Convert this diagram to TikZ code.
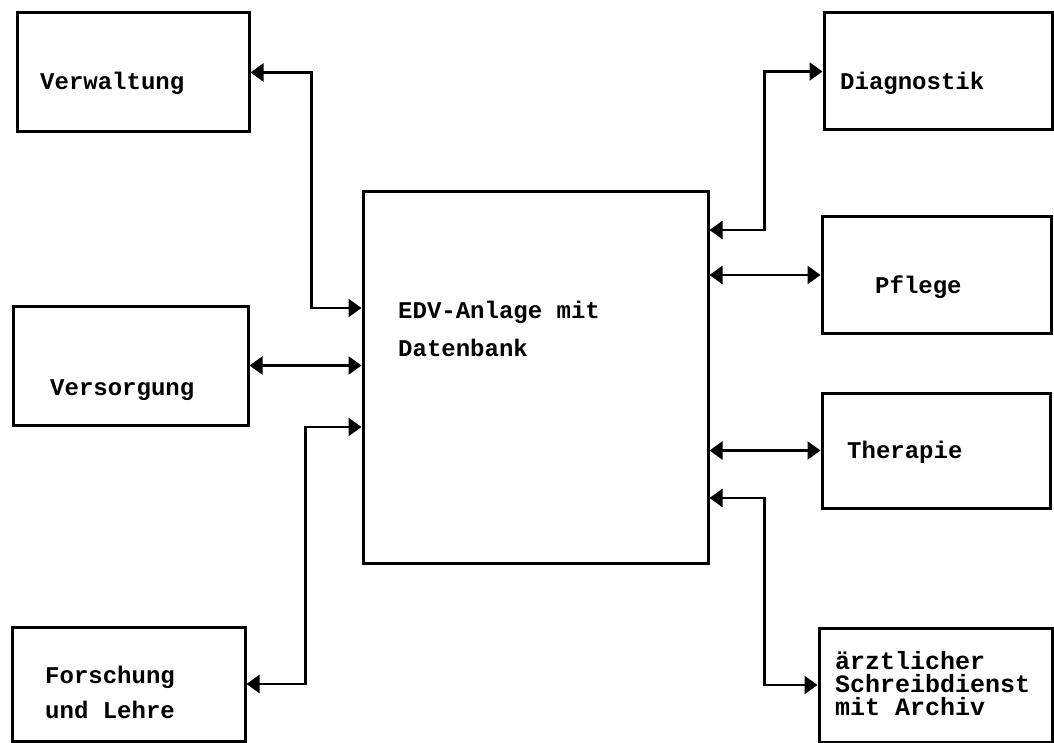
\documentclass[tikz,border=0pt]{standalone}
\usepackage{fontspec}
\setmonofont{Liberation Mono}
\usetikzlibrary{arrows.meta}
\begin{document}
\begin{tikzpicture}[x=1pt,y=-1pt,
  box/.style={draw,line width=3pt,inner sep=0pt},
  txt/.style={anchor=west,inner sep=0pt,align=left,font=\ttfamily\bfseries\fontsize{24}{36}\selectfont},
  arrow/.style={draw,line width=2.5pt,{Triangle[length=13pt,width=18pt]}-{Triangle[length=13pt,width=18pt]}}]
\useasboundingbox (0,0) rectangle (1054,743);
\node[box,minimum width=232pt,minimum height=119pt] at (133,72.5) (verw) {};
\node[box,minimum width=235pt,minimum height=119pt] at (130.5,365.5) (vers) {};
\node[box,minimum width=233pt,minimum height=114pt] at (128.5,684) (forsch) {};
\node[box,minimum width=345pt,minimum height=371pt] at (535.5,377.5) (edv) {};
\node[box,minimum width=228pt,minimum height=117pt] at (938,71.5) (diag) {};
\node[box,minimum width=229pt,minimum height=116pt] at (936.5,275) (pfl) {};
\node[box,minimum width=228pt,minimum height=115pt] at (936,450.5) (ther) {};
\node[box,minimum width=233pt,minimum height=114pt] at (935.5,685) (arzt) {};
% Beschriftungen
\node[txt] at (40,83) (verwtxt) {Verwaltung};
\node[txt] at (50,390) (verstxt) {Versorgung};
\node[txt,font=\ttfamily\bfseries\fontsize{24}{35}\selectfont] at (45,692) (forschtxt) {Forschung\\und Lehre};
\node[txt,font=\ttfamily\bfseries\fontsize{24}{38}\selectfont] at (398,329) (edvtxt) {EDV-Anlage mit\\Datenbank};
\node[txt] at (840,83) (diagtxt) {Diagnostik};
\node[txt] at (875,287) (pfltxt) {Pflege};
\node[txt] at (847,452) (thertxt) {Therapie};
\node[txt,font=\ttfamily\bfseries\fontsize{25}{23}\selectfont] at (835,683.5) (arzttxt) {ärztlicher\\Schreibdienst\\mit Archiv};
% Verbindungen
\draw[arrow] (verw.east) -- ++(61,0) |- ([yshift=69.5pt]edv.west);
\draw[arrow] (vers.east) -- (vers.east -| edv.west);
\draw[arrow] (forsch.east) -- ++(59,0) |- ([yshift=-49.5pt]edv.west);
\draw[arrow] ([yshift=147.5pt]edv.east) -- ++(55,0) |- (diag.west);
\draw[arrow] (pfl.west -| edv.east) -- (pfl.west);
\draw[arrow] (ther.west -| edv.east) -- (ther.west);
\draw[arrow] ([yshift=-120.5pt]edv.east) -- ++(55,0) |- (arzt.west);
\end{tikzpicture}
\end{document}
